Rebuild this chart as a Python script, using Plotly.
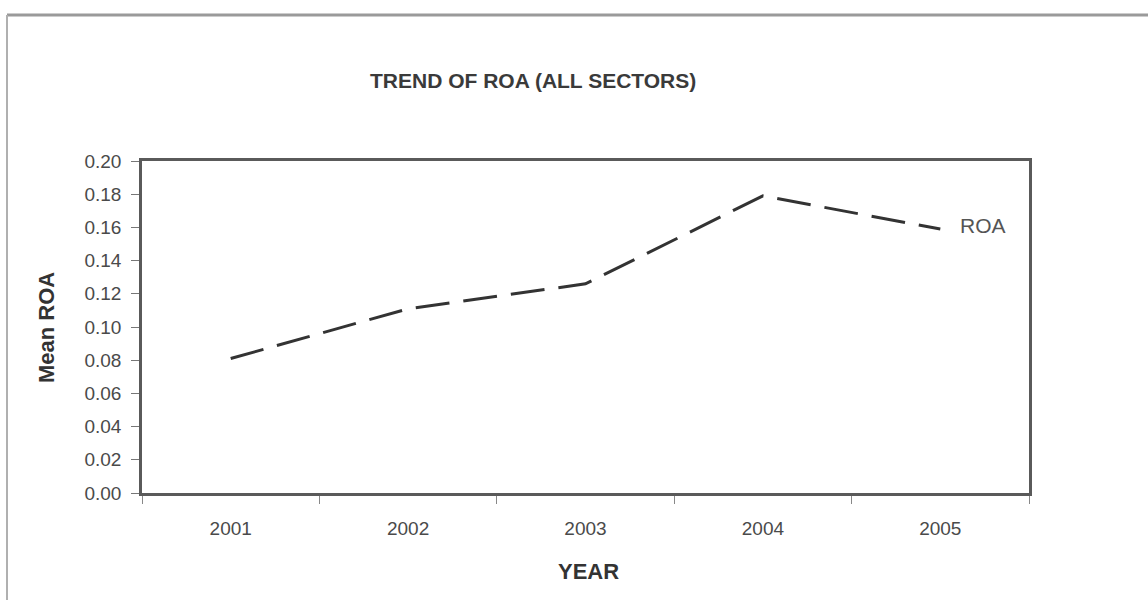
import plotly.graph_objects as go

years = ["2001", "2002", "2003", "2004", "2005"]
mean_roa = [0.081, 0.111, 0.126, 0.179, 0.159]
y_ticks = [0.00, 0.02, 0.04, 0.06, 0.08, 0.10, 0.12, 0.14, 0.16, 0.18, 0.20]

# plot-area geometry in pixels (used for placing titles and frame lines)
W, H = 1148, 600
L, R, T, B = 142, 119, 161, 107
pw, ph = W - L - R, H - T - B
FONT = "Liberation Sans, Arial, sans-serif"


def px_x(p):
    return (p - L) / pw


def px_y(p):
    return (H - B - p) / ph


fig = go.Figure()
fig.add_trace(go.Scatter(
    x=years, y=mean_roa, mode="lines", name="ROA",
    line=dict(color="#333333", width=3, dash="34px,14px"),
    showlegend=False,
))

fig.update_layout(
    width=W, height=H,
    margin=dict(l=L, r=R, t=T, b=B),
    paper_bgcolor="white", plot_bgcolor="white",
    font=dict(family=FONT, size=19, color="#4a4a4a"),
    xaxis=dict(
        type="category", range=[-0.5, 4.5],
        showline=True, linecolor="#5a5a5a", linewidth=2.5, mirror=True,
        ticks="outside", tickson="boundaries", ticklen=8, tickcolor="#888888",
        ticklabelstandoff=16,
        showgrid=False, zeroline=False,
    ),
    yaxis=dict(
        range=[0, 0.2], tickvals=y_ticks, tickformat=".2f",
        showline=True, linecolor="#5a5a5a", linewidth=2.5, mirror=True,
        ticks="outside", ticklen=8, tickcolor="#777777",
        ticklabelstandoff=6,
        showgrid=False, zeroline=False,
    ),
    shapes=[
        dict(type="line", xref="paper", yref="paper",
             x0=px_x(7), x1=px_x(1148), y0=px_y(15), y1=px_y(15),
             line=dict(color="#9a9a9a", width=3)),
        dict(type="line", xref="paper", yref="paper",
             x0=px_x(7), x1=px_x(7), y0=px_y(15), y1=px_y(600),
             line=dict(color="#b0b0b0", width=2)),
    ],
)

# series label at the end of the line (category axis: position by index)
fig.add_annotation(
    x=len(years) - 1, y=mean_roa[-1], text="ROA", showarrow=False,
    xanchor="left", yanchor="middle", xshift=18, yshift=4,
    font=dict(family=FONT, size=21, color="#555555"),
)

# chart title and axis titles
fig.add_annotation(
    text="<b>TREND OF ROA (ALL SECTORS)</b>", xref="paper", yref="paper",
    x=px_x(533), y=px_y(80), xanchor="center", yanchor="middle", showarrow=False,
    font=dict(family=FONT, size=21, color="#3a3a3a"),
)
fig.add_annotation(
    text="<b>YEAR</b>", xref="paper", yref="paper",
    x=px_x(588), y=px_y(571), xanchor="center", yanchor="middle", showarrow=False,
    font=dict(family=FONT, size=22, color="#333333"),
)
fig.add_annotation(
    text="<b>Mean ROA</b>", xref="paper", yref="paper",
    x=px_x(46), y=px_y(328), xanchor="center", yanchor="middle", showarrow=False,
    textangle=-90,
    font=dict(family=FONT, size=22, color="#333333"),
)

fig.write_html("out.html")
